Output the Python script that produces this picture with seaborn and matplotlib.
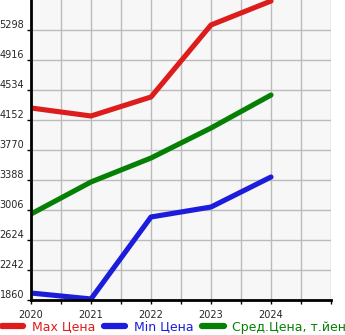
import matplotlib
matplotlib.use("Agg")
import matplotlib.pyplot as plt
import seaborn as sns
import pandas as pd
from matplotlib.lines import Line2D

years = [2020, 2021, 2022, 2023, 2024]
max_price = [4305, 4203, 4445, 5362, 5667]
min_price = [1949, 1873, 2917, 3044, 3426]
avg_price = [2955, 3363, 3668, 4050, 4470]
series_names = ["Max Цена", "Min Цена", "Сред.Цена, т.йен"]
colors = ["#dd1c1c", "#1c1cdd", "#058005"]
yticks = [1860, 2242, 2624, 3006, 3388, 3770, 4152, 4534, 4916, 5298]
xticks = [2020, 2021, 2022, 2023, 2024]

df = pd.DataFrame({
    "year": years * 3,
    "value": max_price + min_price + avg_price,
    "series": [series_names[0]] * 5 + [series_names[1]] * 5 + [series_names[2]] * 5,
})

sns.set_theme(style="white")
plt.rcParams["font.family"] = ["DejaVu Sans"]

fig = plt.figure(figsize=(3.45, 3.35), dpi=100)
ax = fig.add_axes([31 / 345, 35 / 335, 300 / 345, 300 / 335])
ax.set_facecolor("#f7f7f7")

sns.lineplot(data=df, x="year", y="value", hue="series", palette=colors,
             hue_order=series_names, linewidth=3.7, ax=ax, legend=False,
             solid_capstyle="round")

grid_x = [2020 + 0.5 * i for i in range(11)]
ax.set_xlim(2020, 2025)
ax.set_ylim(1860, 5680)
ax.set_xticks(grid_x)
ax.set_xticklabels([str(int(t)) if t in xticks else "" for t in grid_x])
ax.set_yticks(yticks)
ax.set_yticklabels([str(v) for v in yticks])
ax.grid(True, color="#bbbbbb", linewidth=1)
ax.set_axisbelow(True)
ax.set_xlabel("")
ax.set_ylabel("")

for s in ["top", "right"]:
    ax.spines[s].set_visible(False)
for s in ["left", "bottom"]:
    ax.spines[s].set_color("black")
    ax.spines[s].set_linewidth(2)

ax.tick_params(axis="both", which="major", length=3, width=1, color="black",
               labelsize=7, pad=2, left=True, bottom=True)
ax.tick_params(axis="x", pad=4)
for lbl in ax.get_yticklabels():
    lbl.set_verticalalignment("bottom")

handles = [Line2D([0], [0], color=c, linewidth=4.5, solid_capstyle="round") for c in colors]
leg = fig.legend(handles, series_names, loc="center", bbox_to_anchor=(174 / 345, 8 / 335),
                 ncol=3, frameon=False, fontsize=9, handlelength=1.7,
                 handletextpad=0.7, columnspacing=0.7, borderaxespad=0, borderpad=0)
for t, c in zip(leg.get_texts(), colors):
    t.set_color(c)

fig.savefig("out.png", dpi=100)
